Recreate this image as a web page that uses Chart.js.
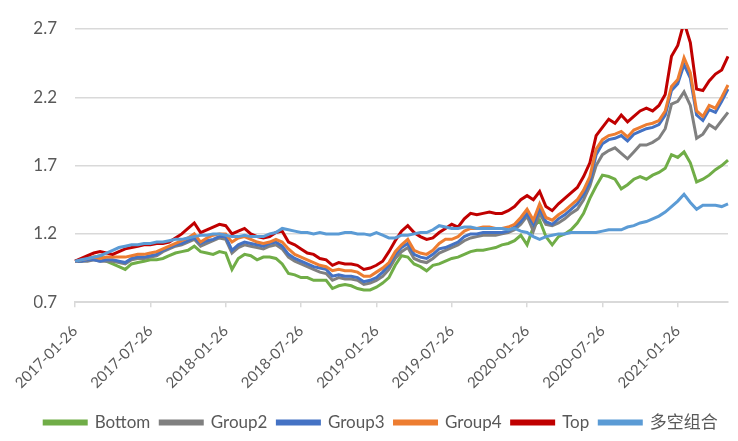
<!DOCTYPE html>
<html>
<head>
<meta charset="utf-8">
<script src="https://cdn.jsdelivr.net/npm/chart.js@4"></script>
<style>
  html, body { margin: 0; padding: 0; background: #fff; }
  #wrap { width: 738px; height: 441px; }
</style>
</head>
<body>
<div id="wrap"><canvas id="nav-chart"></canvas></div>
<script>
// Tick labels shown on the x axis (every 6 months)
const tickLabels = ['2017-01-26', '2017-07-26', '2018-01-26', '2018-07-26', '2019-01-26',
    '2019-07-26', '2020-01-26', '2020-07-26', '2021-01-26'];
const yTicks = [0.7, 1.2, 1.7, 2.2, 2.7];

// Series names and colours (Excel palette)
const seriesNames = ['Bottom', 'Group2', 'Group3', 'Group4', 'Top', '多空组合'];
const seriesColors = ['#70AD47', '#808080', '#4472C4', '#ED7D31', '#C00000', '#5B9BD5'];

const bottom = [1.00, 1.00, 1.02, 1.03, 1.04, 1.00, 0.98, 0.96, 0.94, 0.98, 0.99, 1.00, 1.01, 1.01, 1.02, 1.04,
    1.06, 1.07, 1.08, 1.11, 1.07, 1.06, 1.05, 1.07, 1.06, 0.94, 1.02, 1.05, 1.04, 1.01, 1.03, 1.03,
    1.02, 0.98, 0.91, 0.90, 0.88, 0.88, 0.86, 0.86, 0.86, 0.80, 0.82, 0.83, 0.82, 0.80, 0.79, 0.79,
    0.81, 0.84, 0.88, 0.97, 1.04, 1.03, 0.98, 0.96, 0.93, 0.97, 0.98, 1.00, 1.02, 1.03, 1.05, 1.07,
    1.08, 1.08, 1.09, 1.10, 1.12, 1.13, 1.15, 1.19, 1.12, 1.25, 1.30, 1.18, 1.12, 1.18, 1.20, 1.23,
    1.28, 1.35, 1.46, 1.55, 1.63, 1.62, 1.60, 1.53, 1.56, 1.60, 1.62, 1.60, 1.63, 1.65, 1.68, 1.78,
    1.76, 1.80, 1.72, 1.58, 1.60, 1.63, 1.67, 1.70, 1.74];
const group2 = [1.00, 1.00, 1.00, 1.01, 1.00, 1.00, 1.00, 0.99, 0.98, 1.01, 1.02, 1.02, 1.03, 1.04, 1.07, 1.09,
    1.11, 1.12, 1.14, 1.16, 1.11, 1.13, 1.15, 1.17, 1.16, 1.06, 1.10, 1.12, 1.11, 1.10, 1.09, 1.11,
    1.12, 1.09, 1.03, 1.00, 0.98, 0.96, 0.94, 0.92, 0.91, 0.86, 0.88, 0.87, 0.87, 0.86, 0.83, 0.84,
    0.86, 0.89, 0.94, 1.02, 1.07, 1.10, 1.02, 1.00, 0.99, 1.02, 1.06, 1.08, 1.10, 1.12, 1.15, 1.17,
    1.18, 1.19, 1.19, 1.19, 1.20, 1.21, 1.23, 1.27, 1.33, 1.22, 1.35, 1.27, 1.26, 1.28, 1.31, 1.35,
    1.38, 1.45, 1.55, 1.70, 1.78, 1.81, 1.83, 1.79, 1.75, 1.80, 1.85, 1.85, 1.87, 1.90, 1.97, 2.15,
    2.17, 2.24, 2.14, 1.90, 1.93, 2.00, 1.97, 2.03, 2.09];
const group3 = [1.00, 1.00, 1.01, 1.01, 1.00, 1.01, 1.01, 1.00, 0.99, 1.02, 1.03, 1.03, 1.04, 1.05, 1.08, 1.10,
    1.12, 1.13, 1.15, 1.17, 1.13, 1.15, 1.16, 1.18, 1.18, 1.08, 1.12, 1.14, 1.13, 1.12, 1.11, 1.13,
    1.14, 1.11, 1.05, 1.02, 1.00, 0.98, 0.96, 0.95, 0.94, 0.89, 0.90, 0.89, 0.89, 0.88, 0.85, 0.86,
    0.88, 0.92, 0.97, 1.05, 1.10, 1.13, 1.05, 1.03, 1.02, 1.05, 1.09, 1.10, 1.12, 1.14, 1.18, 1.20,
    1.20, 1.21, 1.21, 1.21, 1.21, 1.22, 1.25, 1.29, 1.35, 1.27, 1.39, 1.29, 1.27, 1.31, 1.34, 1.38,
    1.42, 1.49, 1.58, 1.78, 1.86, 1.89, 1.90, 1.92, 1.88, 1.93, 1.95, 1.97, 1.98, 2.00, 2.07, 2.25,
    2.30, 2.44, 2.34, 2.07, 2.03, 2.11, 2.09, 2.17, 2.26];
const group4 = [1.00, 1.01, 1.02, 1.03, 1.02, 1.03, 1.03, 1.03, 1.03, 1.04, 1.05, 1.05, 1.06, 1.07, 1.09, 1.11,
    1.13, 1.15, 1.17, 1.20, 1.14, 1.17, 1.19, 1.20, 1.20, 1.14, 1.17, 1.18, 1.16, 1.14, 1.13, 1.14,
    1.16, 1.14, 1.09, 1.05, 1.03, 1.01, 0.99, 0.97, 0.96, 0.93, 0.94, 0.93, 0.93, 0.92, 0.89, 0.89,
    0.92, 0.95, 0.99, 1.07, 1.12, 1.16, 1.08, 1.06, 1.05, 1.08, 1.13, 1.16, 1.16, 1.18, 1.22, 1.24,
    1.24, 1.25, 1.25, 1.24, 1.24, 1.25, 1.27, 1.32, 1.38, 1.30, 1.42, 1.32, 1.30, 1.34, 1.37, 1.41,
    1.45, 1.52, 1.62, 1.82, 1.89, 1.92, 1.93, 1.95, 1.91, 1.96, 1.98, 2.00, 2.01, 2.03, 2.10, 2.28,
    2.33, 2.49, 2.38, 2.10, 2.06, 2.14, 2.12, 2.20, 2.29];
const top_ = [1.00, 1.02, 1.04, 1.06, 1.07, 1.06, 1.05, 1.07, 1.09, 1.10, 1.11, 1.12, 1.12, 1.13, 1.13, 1.14,
    1.17, 1.20, 1.24, 1.28, 1.21, 1.23, 1.25, 1.27, 1.26, 1.20, 1.22, 1.24, 1.20, 1.18, 1.17, 1.18,
    1.21, 1.22, 1.14, 1.12, 1.09, 1.06, 1.05, 1.02, 1.01, 0.97, 0.99, 0.98, 0.98, 0.97, 0.94, 0.95,
    0.97, 1.00, 1.07, 1.15, 1.22, 1.26, 1.21, 1.18, 1.16, 1.17, 1.21, 1.24, 1.27, 1.25, 1.31, 1.35,
    1.34, 1.35, 1.36, 1.35, 1.35, 1.37, 1.40, 1.45, 1.48, 1.45, 1.51, 1.40, 1.37, 1.42, 1.46, 1.50,
    1.54, 1.62, 1.72, 1.92, 1.98, 2.04, 2.01, 2.07, 2.02, 2.06, 2.10, 2.12, 2.10, 2.14, 2.22, 2.50,
    2.58, 2.75, 2.60, 2.26, 2.25, 2.32, 2.37, 2.40, 2.50];
const longShort = [1.00, 1.01, 1.02, 1.03, 1.04, 1.06, 1.08, 1.10, 1.11, 1.12, 1.12, 1.13, 1.13, 1.14, 1.14, 1.15,
    1.16, 1.16, 1.17, 1.18, 1.19, 1.19, 1.20, 1.20, 1.19, 1.18, 1.18, 1.19, 1.18, 1.18, 1.18, 1.20,
    1.21, 1.24, 1.23, 1.22, 1.21, 1.21, 1.20, 1.21, 1.20, 1.20, 1.20, 1.21, 1.21, 1.20, 1.20, 1.19,
    1.21, 1.19, 1.17, 1.17, 1.19, 1.19, 1.20, 1.21, 1.21, 1.23, 1.26, 1.25, 1.24, 1.24, 1.25, 1.25,
    1.24, 1.24, 1.24, 1.24, 1.24, 1.23, 1.24, 1.22, 1.21, 1.18, 1.16, 1.18, 1.19, 1.20, 1.20, 1.21,
    1.21, 1.21, 1.21, 1.21, 1.22, 1.23, 1.23, 1.23, 1.25, 1.26, 1.28, 1.29, 1.31, 1.33, 1.36, 1.40,
    1.44, 1.49, 1.43, 1.38, 1.41, 1.41, 1.41, 1.40, 1.42];

const seriesData = [bottom, group2, group3, group4, top_, longShort];

// Category labels: 26th and 11th of each month
const dates = [];
for (let i = 0; i < bottom.length; i++) {
    const m = Math.floor(i / 2);
    const d = new Date(Date.UTC(2017, m, 26));
    if (i % 2 === 1) d.setUTCDate(d.getUTCDate() + 16);
    dates.push(d.toISOString().slice(0, 10));
}

const FONT = "Lato, 'Noto Sans CJK SC', sans-serif";
const ctx = document.getElementById('nav-chart').getContext('2d');

new Chart(ctx, {
    type: 'line',
    data: {
        labels: dates,
        datasets: seriesNames.map((name, k) => ({
            label: name,
            data: seriesData[k],
            borderColor: seriesColors[k],
            backgroundColor: seriesColors[k],
            borderWidth: 3,
            pointRadius: 0,
            tension: 0,
            order: seriesNames.length - k   // later series drawn on top, like Excel
        }))
    },
    options: {
        responsive: true,
        maintainAspectRatio: false,
        animation: false,
        layout: { padding: { top: 29, right: 10, left: 34, bottom: 0 } },
        scales: {
            x: {
                offset: false,
                grid: { drawOnChartArea: false, color: '#D9D9D9', lineWidth: 1.5, tickLength: 5 },
                border: { color: '#D9D9D9', width: 2 },
                ticks: {
                    autoSkip: false,
                    maxRotation: 45,
                    minRotation: 45,
                    padding: 15,
                    color: '#595959',
                    font: { family: FONT, size: 15 },
                    callback: function(value) {
                        const lab = this.getLabelForValue(value);
                        return tickLabels.includes(lab) ? lab : null;
                    }
                },
                // let the first rotated label hang out to the left instead of shrinking the plot
                afterFit: scale => { scale.paddingLeft = 0; scale.height -= 3; }
            },
            y: {
                min: yTicks[0],
                max: yTicks[yTicks.length - 1],
                grid: { color: '#D9D9D9', lineWidth: 1.5, drawTicks: false },
                border: { display: false },
                ticks: {
                    stepSize: 0.5,
                    padding: 18,
                    color: '#595959',
                    font: { family: FONT, size: 17 },
                    callback: v => Number(v).toFixed(1)
                },
                afterFit: scale => { scale.width = 41; }
            }
        },
        plugins: {
            legend: {
                position: 'bottom',
                labels: {
                    boxWidth: 42,
                    boxHeight: 3,
                    padding: 10,
                    color: '#595959',
                    font: { family: FONT, size: 17 },
                    sort: (a, b) => a.datasetIndex - b.datasetIndex
                }
            },
            tooltip: { enabled: false }
        }
    }
});
</script>
</body>
</html>
